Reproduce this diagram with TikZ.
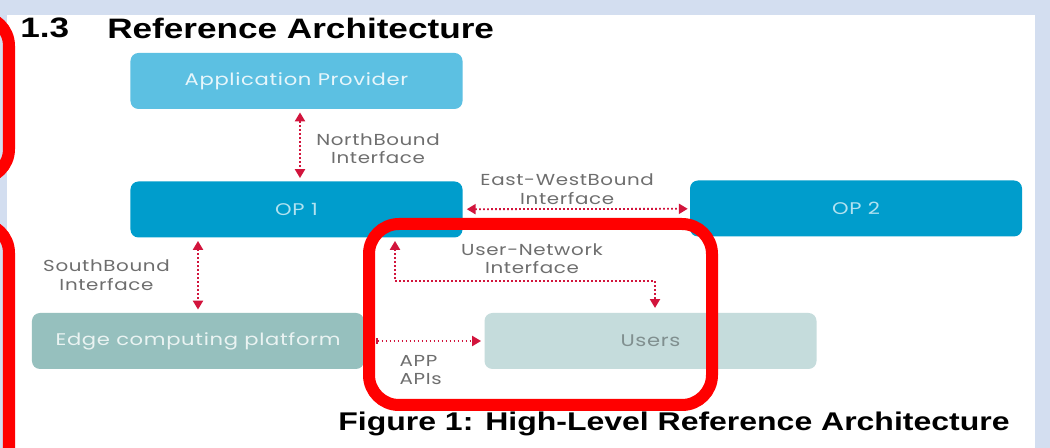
\documentclass[tikz,border=0pt]{standalone}
\usepackage{fontspec}
\setmainfont{Poppins}[FakeStretch=1.25,LetterSpace=4]
\newfontfamily\headfont[FakeStretch=1.25]{Liberation Sans}
\usetikzlibrary{arrows.meta,calc,positioning}
\definecolor{pagebg}{RGB}{211,222,240}
\definecolor{appblue}{RGB}{92,192,226}
\definecolor{opblue}{RGB}{0,157,204}
\definecolor{edgeteal}{RGB}{150,192,190}
\definecolor{usergrey}{RGB}{197,220,220}
\definecolor{ifacered}{RGB}{210,20,60}
\definecolor{labelgrey}{RGB}{110,110,110}

\begin{document}
\begin{tikzpicture}[x=0.25mm, y=-0.25mm,
  block/.style={rounded corners=2mm, minimum width=83mm, minimum height=14mm,
                inner sep=0pt, font=\fontsize{12}{14}\selectfont},
  appbox/.style={block, fill=appblue, text=white!85!appblue},
  opbox/.style={block, fill=opblue, text=white!70!opblue},
  edgebox/.style={block, fill=edgeteal, text=white!80!edgeteal},
  userbox/.style={block, fill=usergrey, text=black!35!usergrey},
  lbl/.style={align=center, text=labelgrey, font=\fontsize{11.3}{13}\selectfont, inner sep=1pt},
  iface/.style={{Triangle[length=2.2mm,width=2.5mm]}-{Triangle[length=2.2mm,width=2.5mm]},
                ifacered, line width=0.45mm, dash pattern=on 0.45mm off 0.55mm},
  heading/.style={font=\headfont\bfseries\fontsize{20}{22}\selectfont, inner sep=0pt},
  highlight/.style={draw=red, line width=3mm, rounded corners=7.5mm}]
% page and sheet
\fill[pagebg] (0,0) rectangle (1050,448);
\fill[white] (7,15) rectangle (1035,448);
\useasboundingbox (0,0) rectangle (1050,448);
\node[heading, anchor=west] (num) at (20,28) {1.3};
\node[heading, anchor=west] (title) at (107,28) {Reference Architecture};
% blocks
\node[appbox] (app) at (296.5,81) {Application Provider};
\node[opbox] (op1) at (296.5,209.5) {OP 1};
\node[opbox] (op2) at (856,208.5) {OP 2};
\node[edgebox] (edge) at (198,341) {Edge computing platform};
\node[userbox] (users) at (650.5,341) {Users};
% interfaces
\draw[iface, shorten <=0.8mm, shorten >=0.8mm] (app.south -| 300,0) -- node[lbl, right=3.5mm, yshift=-0.8mm] {NorthBound\\Interface} (op1.north -| 300,0);
\draw[iface, shorten <=1mm, shorten >=0.5mm] (op1) -- node[lbl, above=0.6mm, pos=0.46] {East-WestBound\\Interface} (op2);
\draw[iface, shorten <=0.8mm, shorten >=0.8mm] (op1.south -| edge) -- node[lbl, left=6.5mm] {SouthBound\\Interface} (edge);
\coordinate (unbend) at (532,281);
\draw[iface, shorten <=0.8mm, shorten >=1.2mm] (op1.south -| 395,0) |- (unbend) node[lbl, above=1.2mm] {User-Network\\Interface} -| (users.north -| 655,0);
\draw[iface, {Bar[width=1.5mm]}-{Triangle[length=2.2mm,width=2.5mm]}, shorten <=3mm, shorten >=0.8mm] (edge) -- node[lbl, below=3mm, pos=0.47, align=left] {APP\\APIs} (users);
\node[heading, font=\headfont\bfseries\fontsize{18.2}{20}\selectfont] (caption) at (674,424) {Figure 1: High-Level Reference Architecture};
% highlight frames
\draw[highlight] (-60,16) rectangle (9,179);
\draw[highlight] (-60,223) rectangle (9,520);
\draw[highlight] (369,224) rectangle (712,405);
\end{tikzpicture}
\end{document}
